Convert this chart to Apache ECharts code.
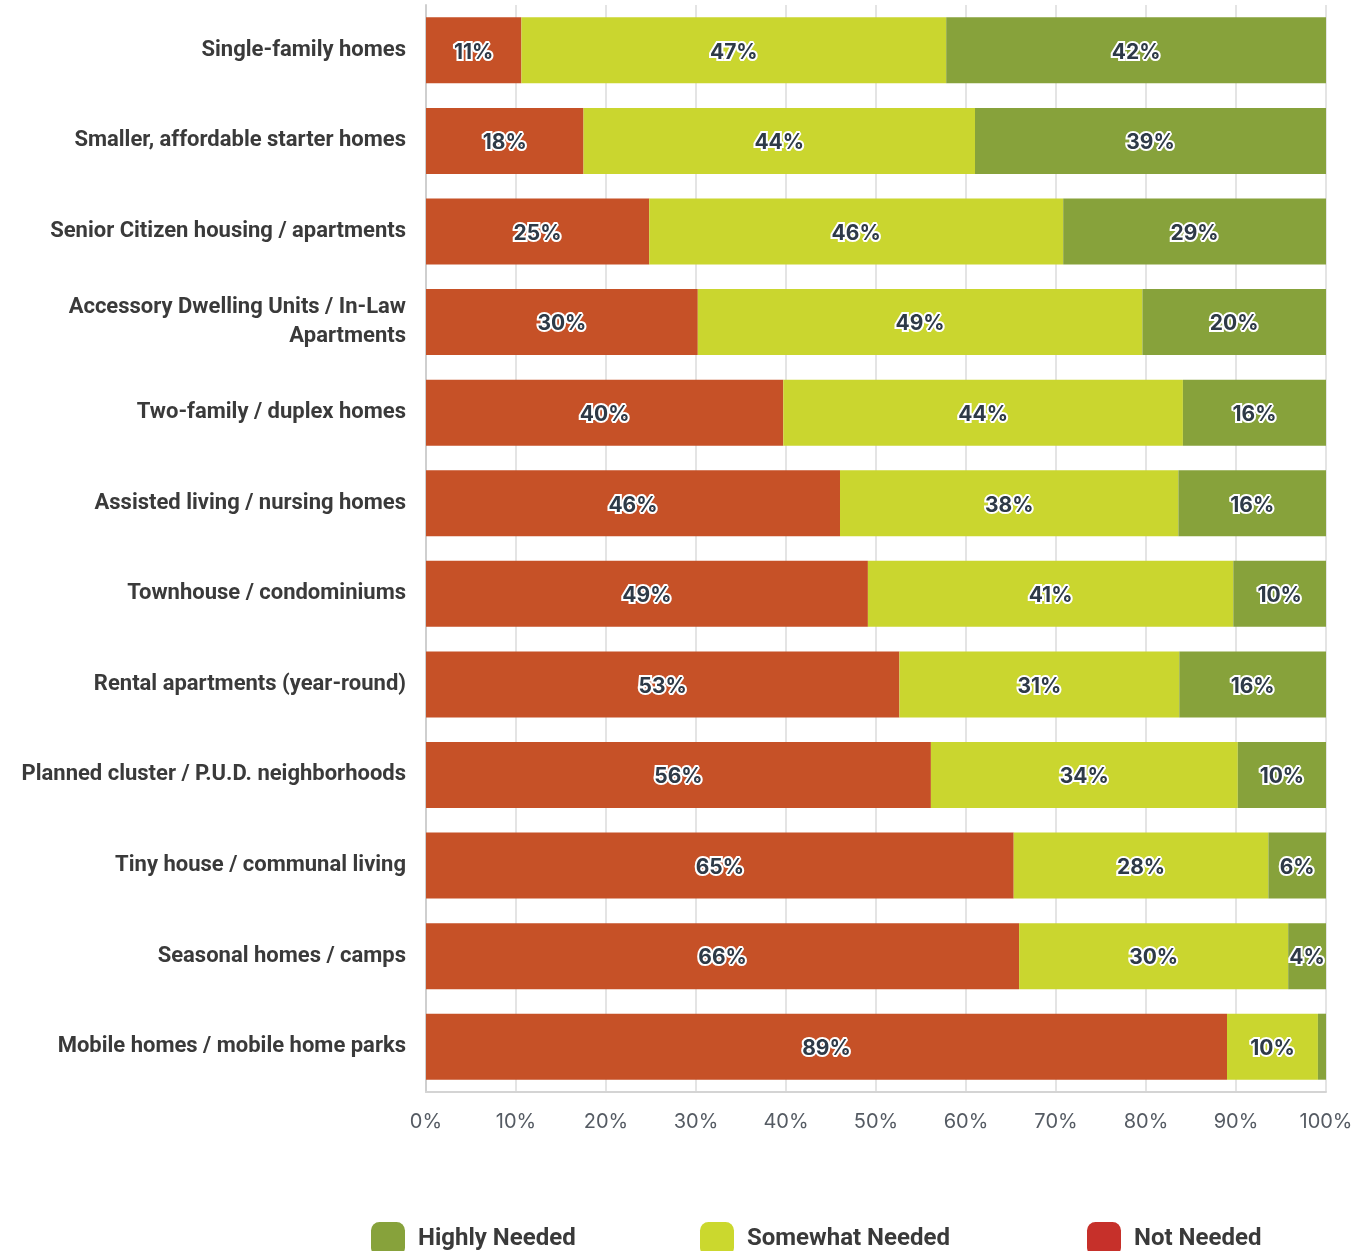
<!DOCTYPE html>
<html><head><meta charset="utf-8">
<script src="https://cdn.jsdelivr.net/npm/echarts@6/dist/echarts.min.js"></script>
<style>html,body{margin:0;padding:0;background:#fff}#c{width:1357px;height:1251px}</style>
</head><body><div id="c"></div>
<script>
const categories = [
  "Single-family homes",
  "Smaller, affordable starter homes",
  "Senior Citizen housing / apartments",
  "Accessory Dwelling Units / In-Law\nApartments",
  "Two-family / duplex homes",
  "Assisted living / nursing homes",
  "Townhouse / condominiums",
  "Rental apartments (year-round)",
  "Planned cluster / P.U.D. neighborhoods",
  "Tiny house / communal living",
  "Seasonal homes / camps",
  "Mobile homes / mobile home parks"
];
const notNeeded      = [10.6, 17.5, 24.8, 30.2, 39.7, 46.0, 49.1, 52.6, 56.1, 65.3, 65.9, 89.0];
const somewhatNeeded = [47.2, 43.5, 46.0, 49.4, 44.4, 37.6, 40.6, 31.1, 34.1, 28.3, 29.9, 10.1];
const highlyNeeded   = [42.2, 39.0, 29.2, 20.4, 15.9, 16.4, 10.3, 16.3,  9.8,  6.4,  4.2,  0.9];
const tickLabels = ["0%","10%","20%","30%","40%","50%","60%","70%","80%","90%","100%"];

const labelStyle = {
  show: true, position: 'inside', offset: [0, 2],
  formatter: p => p.value < 2 ? '' : Math.round(p.value) + '%',
  color: '#2e3a47', fontFamily: 'Inter', fontWeight: 'bold', fontSize: 21,
  textBorderColor: '#fff', textBorderWidth: 4
};
const chart = echarts.init(document.getElementById('c'));
const catFont = 'Roboto';
function legend(name, color, left) {
  return {
    left: left, top: 1217, itemWidth: 34, itemHeight: 34, itemGap: 0,
    icon: 'roundRect',
    textStyle: {fontFamily: catFont, fontWeight: 'bold', fontSize: 24, color: '#3a3a3a', padding: [0,0,0,8]},
    data: [{name: name, itemStyle: {color: color}}],
    selectedMode: false
  };
}
chart.setOption({
  animation: false,
  grid: {left: 426, right: 31, top: 5, bottom: 159, containLabel: false, outerBoundsMode: 'none'},
  xAxis: {
    type: 'value', min: 0, max: 100, interval: 10,
    axisLabel: {formatter: v => tickLabels[v/10], color: '#555b63', fontFamily: 'Inter', fontSize: 20, margin: 20},
    splitLine: {show: true, lineStyle: {color: '#e4e4e4', width: 2}},
    axisLine: {show: true, lineStyle: {color: '#d4d4d4', width: 2}},
    axisTick: {show: false}
  },
  yAxis: {
    type: 'category', inverse: true, data: categories,
    axisLine: {show: true, lineStyle: {color: '#cfcfcf', width: 2}},
    axisTick: {show: false},
    axisLabel: {color: '#3a3a3a', fontFamily: catFont, fontWeight: 'bold', fontSize: 22, margin: 20, lineHeight: 29, align: 'right', padding: [4, 0, 0, 0]}
  },
  legend: [
    legend('Highly Needed', '#87a23b', 366),
    legend('Somewhat Needed', '#cbd82e', 695),
    legend('Not Needed', '#c6302a', 1082)
  ],
  series: [
    {name: 'Not Needed', type: 'bar', stack: 't', data: notNeeded, barWidth: 66, itemStyle: {color: '#c65127'}, label: labelStyle},
    {name: 'Somewhat Needed', type: 'bar', stack: 't', data: somewhatNeeded, barWidth: 66, itemStyle: {color: '#cad62f'}, label: labelStyle},
    {name: 'Highly Needed', type: 'bar', stack: 't', data: highlyNeeded, barWidth: 66, itemStyle: {color: '#87a23b'}, label: labelStyle}
  ]
});
</script></body></html>
